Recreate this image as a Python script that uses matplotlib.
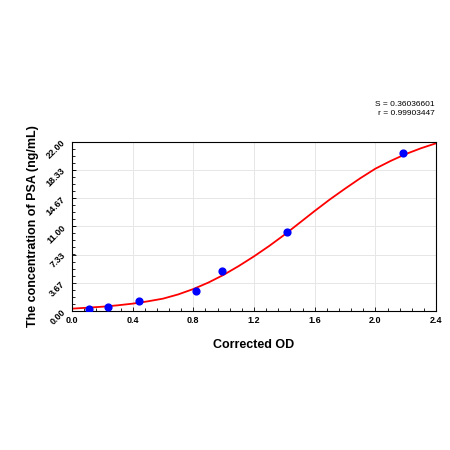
import matplotlib
matplotlib.use("Agg")
import matplotlib.pyplot as plt
from matplotlib.ticker import AutoMinorLocator

plt.rcParams['font.family'] = ['Liberation Sans', 'DejaVu Sans']

od = [0.11, 0.24, 0.44, 0.82, 0.99, 1.42, 2.18]
conc = [0.2, 0.5, 1.25, 2.6, 5.2, 10.3, 20.6]
curve_x = [0.0, 0.1, 0.2, 0.3, 0.4, 0.5, 0.6, 0.7, 0.8, 0.9, 1.0, 1.1, 1.2, 1.3, 1.4, 1.5, 1.6, 1.7, 1.8, 1.9, 2.0, 2.1, 2.2, 2.3, 2.4]
curve_y = [0.3, 0.42, 0.55, 0.73, 0.95, 1.25, 1.6, 2.15, 2.85, 3.7, 4.7, 5.85, 7.1, 8.45, 9.9, 11.45, 13.0, 14.5, 15.9, 17.25, 18.5, 19.5, 20.4, 21.15, 21.8]
yticks = [0.0, 3.67, 7.33, 11.0, 14.67, 18.33, 22.0]
xticks = [0.0, 0.4, 0.8, 1.2, 1.6, 2.0, 2.4]

fig = plt.figure(figsize=(4.5, 4.5), dpi=100)
ax = fig.add_axes([0.16, 0.309, 0.809, 0.376])
ax.plot(curve_x, curve_y, color="red", lw=1.3, zorder=2)
ax.scatter(od, conc, color="blue", s=24, zorder=3)
ax.set_xlim(0, 2.4)
ax.set_ylim(0, 22)
ax.set_xticks(xticks)
ax.set_xticklabels([f"{v:.1f}" for v in xticks], fontsize=6.5, fontweight="bold")
ax.set_yticks(yticks)
ax.set_yticklabels([f"{v:.2f}" for v in yticks], fontsize=6.5, fontweight="bold", rotation=45)
ax.xaxis.set_minor_locator(AutoMinorLocator(5))
ax.yaxis.set_minor_locator(AutoMinorLocator(4))
ax.tick_params(which="both", direction="in", length=3, width=0.6)
ax.tick_params(which="minor", length=2)
ax.grid(True, color="#e6e6e6", lw=0.7)
ax.set_axisbelow(True)
for s in ax.spines.values():
    s.set_linewidth(0.8)
ax.set_xlabel("Corrected OD", fontsize=9, fontweight="bold", labelpad=10)
ax.set_ylabel("The concentration of PSA (ng/mL)", fontsize=9, fontweight="bold", labelpad=4)
fig.text(0.965, 0.74, "S = 0.36036601\nr = 0.99903447", fontsize=6, ha="right", va="bottom", linespacing=1.5)
fig.savefig("out.png", dpi=100, facecolor="white")
